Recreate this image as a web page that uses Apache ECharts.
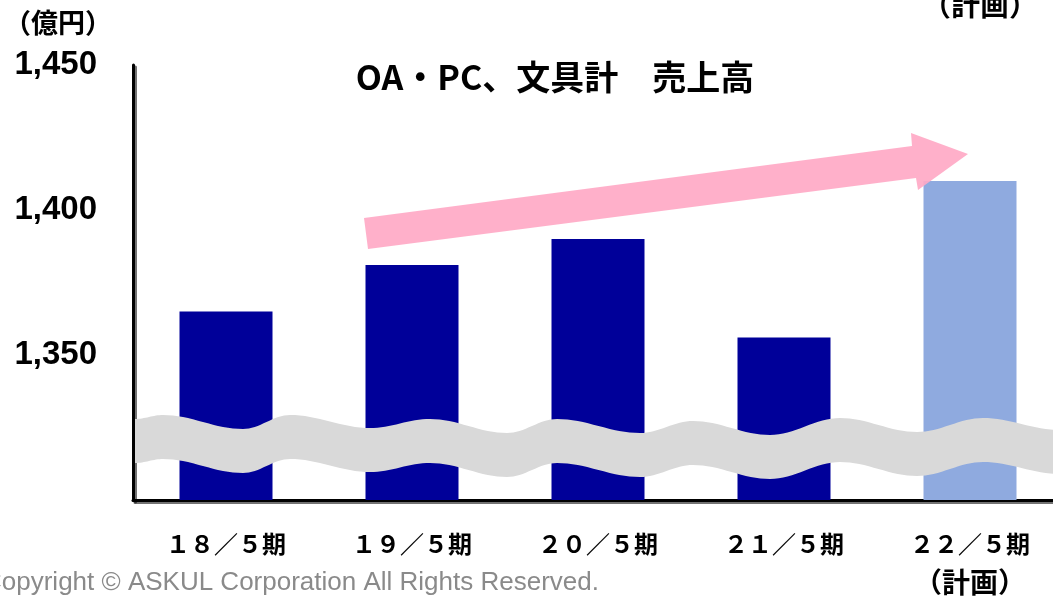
<!DOCTYPE html>
<html>
<head>
<meta charset="utf-8">
<script src="https://cdn.jsdelivr.net/npm/echarts@6/dist/echarts.min.js"></script>
<style>
html,body{margin:0;padding:0;background:#fff;}
#main{width:1053px;height:596px;}
</style>
</head>
<body>
<div id="main"></div>
<script>
// data
var categories = ['１８／５期', '１９／５期', '２０／５期', '２１／５期', '２２／５期\n{p|（計画）}'];
var sales = [1365, 1381, 1390, 1356, 1410];
var barColors = ['#000099', '#000099', '#000099', '#000099', '#8faadf'];
var yMin = 1300, yMax = 1450, yStep = 50;

// decoration: wavy break band (centre line crests/troughs), trend arrow
var wavePoints = [[135,441],[163,437],[243,451],[290,437],[370,450],[430,441],[507,455],[557,441],
	[640,455],[693,443],[770,457],[840,440],[917,454],[983,440],[1060,452]];
var waveHalf = 22;
var arrowPoints = [[364,218],[912,146],[911,133],[968,154],[918,190],[916,178],[368,249]];

// cosine easing between crests and troughs, sampled for a polygon outline
function waveLine(pts) {
	var out = [];
	for (var i = 0; i < pts.length - 1; i++) {
		var a = pts[i], b = pts[i + 1];
		for (var k = 0; k < 16; k++) {
			var t = k / 16;
			out.push([a[0] + (b[0] - a[0]) * t, a[1] + (b[1] - a[1]) * (1 - Math.cos(Math.PI * t)) / 2]);
		}
	}
	out.push(pts[pts.length - 1]);
	return out;
}
var centre = waveLine(wavePoints);
var waveOutline = centre.map(function (q) { return [q[0], q[1] - waveHalf]; })
	.concat(centre.slice().reverse().map(function (q) { return [q[0], q[1] + waveHalf]; }));

var chart = echarts.init(document.getElementById('main'));
var option = {
	animation: false,
	title: {
		text: 'OA・PC、文具計　売上高',
		left: 550,
		textAlign: 'center',
		top: 55,
		textStyle: {
			fontFamily: 'Noto Sans CJK JP',
			fontWeight: 'bold',
			fontSize: 34,
			color: '#000'
		}
	},
	grid: {
		left: 133,
		top: 65,
		width: 930,
		bottom: 96,
		outerBoundsMode: 'none',
		containLabel: false
	},
	xAxis: {
		type: 'category',
		data: categories,
		axisTick: {show: false},
		axisLine: {
			lineStyle: {color: '#000', width: 3, shadowColor: 'rgba(0,0,0,0.55)', shadowOffsetX: 2, shadowOffsetY: 2}
		},
		axisLabel: {
			margin: 25,
			fontFamily: 'Noto Sans CJK JP',
			fontWeight: 'bold',
			fontSize: 24,
			lineHeight: 38,
			color: '#000',
			rich: {
				p: {fontFamily: 'Noto Sans CJK JP', fontWeight: 'bold', fontSize: 28, lineHeight: 38, color: '#000'}
			}
		}
	},
	yAxis: {
		type: 'value',
		min: yMin,
		max: yMax,
		interval: yStep,
		splitLine: {show: false},
		axisTick: {show: false},
		axisLine: {
			show: true,
			lineStyle: {color: '#000', width: 3, shadowColor: 'rgba(0,0,0,0.55)', shadowOffsetX: 2, shadowOffsetY: 2}
		},
		axisLabel: {
			margin: 36,
			fontFamily: 'Liberation Sans',
			fontWeight: 'bold',
			fontSize: 33,
			color: '#000',
			formatter: function (v) {
				return v === yMin ? '' : v.toLocaleString('en-US');
			}
		}
	},
	graphic: [
		{
			type: 'polygon',
			z: 100,
			shape: {points: waveOutline},
			style: {fill: '#d9d9d9'}
		},
		{
			type: 'polygon',
			z: 100,
			shape: {points: arrowPoints},
			style: {fill: '#ffa9c6', opacity: 0.92}
		},
		{
			type: 'text',
			left: 4,
			top: 9,
			style: {text: '（億円）', font: 'bold 27px "Noto Sans CJK JP"', fill: '#000'}
		},
		{
			type: 'text',
			left: 922,
			top: -10,
			style: {text: '（計画）', font: 'bold 29px "Noto Sans CJK JP"', fill: '#000'}
		},
		{
			type: 'text',
			left: -17,
			top: 570,
			style: {text: 'Copyright © ASKUL Corporation All Rights Reserved.', font: '26px "Liberation Sans"', fill: '#8a8a8a'}
		}
	],
	series: [{
		type: 'bar',
		barWidth: '50%',
		data: sales.map(function (v, i) {
			return {value: v, itemStyle: {color: barColors[i]}};
		})
	}]
};
chart.setOption(option);
</script>
</body>
</html>
